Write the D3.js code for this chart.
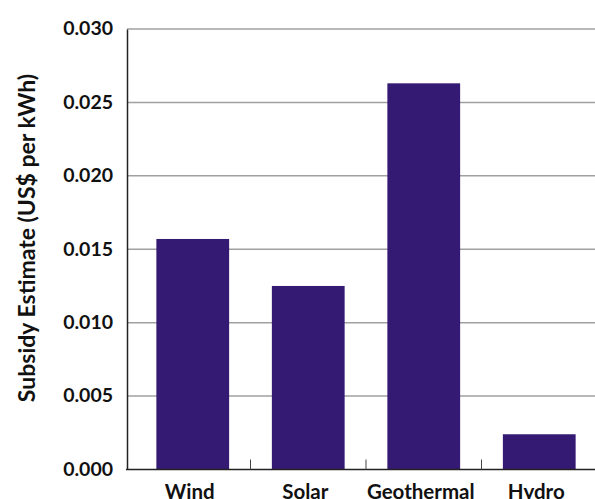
<!DOCTYPE html>
<html><head><meta charset="utf-8">
<script src="https://cdn.jsdelivr.net/npm/d3@7"></script>
<style>body{margin:0;background:#fff}svg{display:block}text{font-family:Lato,"Open Sans",sans-serif;font-weight:bold;fill:#111}</style>
</head><body><svg id="c" width="595" height="499"></svg>
<script>
const categories = ["Wind","Solar","Geothermal","Hydro"];
const values = [0.0157,0.0125,0.0263,0.0024];
const yTicks = [0,0.005,0.010,0.015,0.020,0.025,0.030];
const yLabel = "Subsidy Estimate (US$ per kWh)";

(function(){
const svg = d3.select("#c");
const mLeft = 127, mTop = 29, mBottom = 469.5;
const x = d3.scaleBand().domain(categories).range([135, 597]).paddingInner(0.37).paddingOuter(0.185);
const y = d3.scaleLinear().domain([0,0.030]).range([mBottom, mTop]);

// gridlines
svg.append("g").selectAll("line").data(yTicks.filter(d=>d>0)).join("line")
  .attr("x1", mLeft).attr("x2", 595).attr("y1", d=>y(d)).attr("y2", d=>y(d))
  .attr("stroke", "#a0a0a0").attr("stroke-width", 1.5);

// bars
svg.append("g").selectAll("rect").data(values).join("rect")
  .attr("x", (d,i)=>x(categories[i])).attr("width", x.bandwidth())
  .attr("y", d=>y(d)).attr("height", d=>mBottom - y(d))
  .attr("fill", "#341a73");

// y axis
const ya = d3.axisLeft(y).tickValues(yTicks).tickFormat(d3.format(".3f")).tickSize(0).tickPadding(14);
const yg = svg.append("g").attr("transform", `translate(${mLeft},0)`).call(ya);
yg.select(".domain").attr("stroke", "#222").attr("stroke-width", 1.5);
yg.selectAll("text").style("font-size", "19.5px").style("font-family", "Lato, sans-serif").attr("fill", "#111").attr("dy", "0.3em");

// x axis baseline
svg.append("line").attr("x1", mLeft - 1).attr("x2", 595).attr("y1", mBottom).attr("y2", mBottom)
  .attr("stroke", "#222").attr("stroke-width", 1.5);
// category separator ticks
const seps = categories.slice(1).map(c => x(c) - x.step()*x.paddingInner()/2);
svg.append("g").selectAll("line").data(seps).join("line")
  .attr("x1", d=>d).attr("x2", d=>d).attr("y1", mBottom).attr("y2", mBottom - 10)
  .attr("stroke", "#444").attr("stroke-width", 1);
// x labels
svg.append("g").selectAll("text").data(categories).join("text")
  .attr("x", d=>x(d) + x.bandwidth()/2 - 3).attr("y", 499)
  .attr("text-anchor", "middle").style("font-size", "20.5px").text(d=>d);

// y label
svg.append("text").attr("transform", "translate(35,238) rotate(-90)")
  .attr("text-anchor", "middle").style("font-size", "23px").text(yLabel);
})();
</script></body></html>
